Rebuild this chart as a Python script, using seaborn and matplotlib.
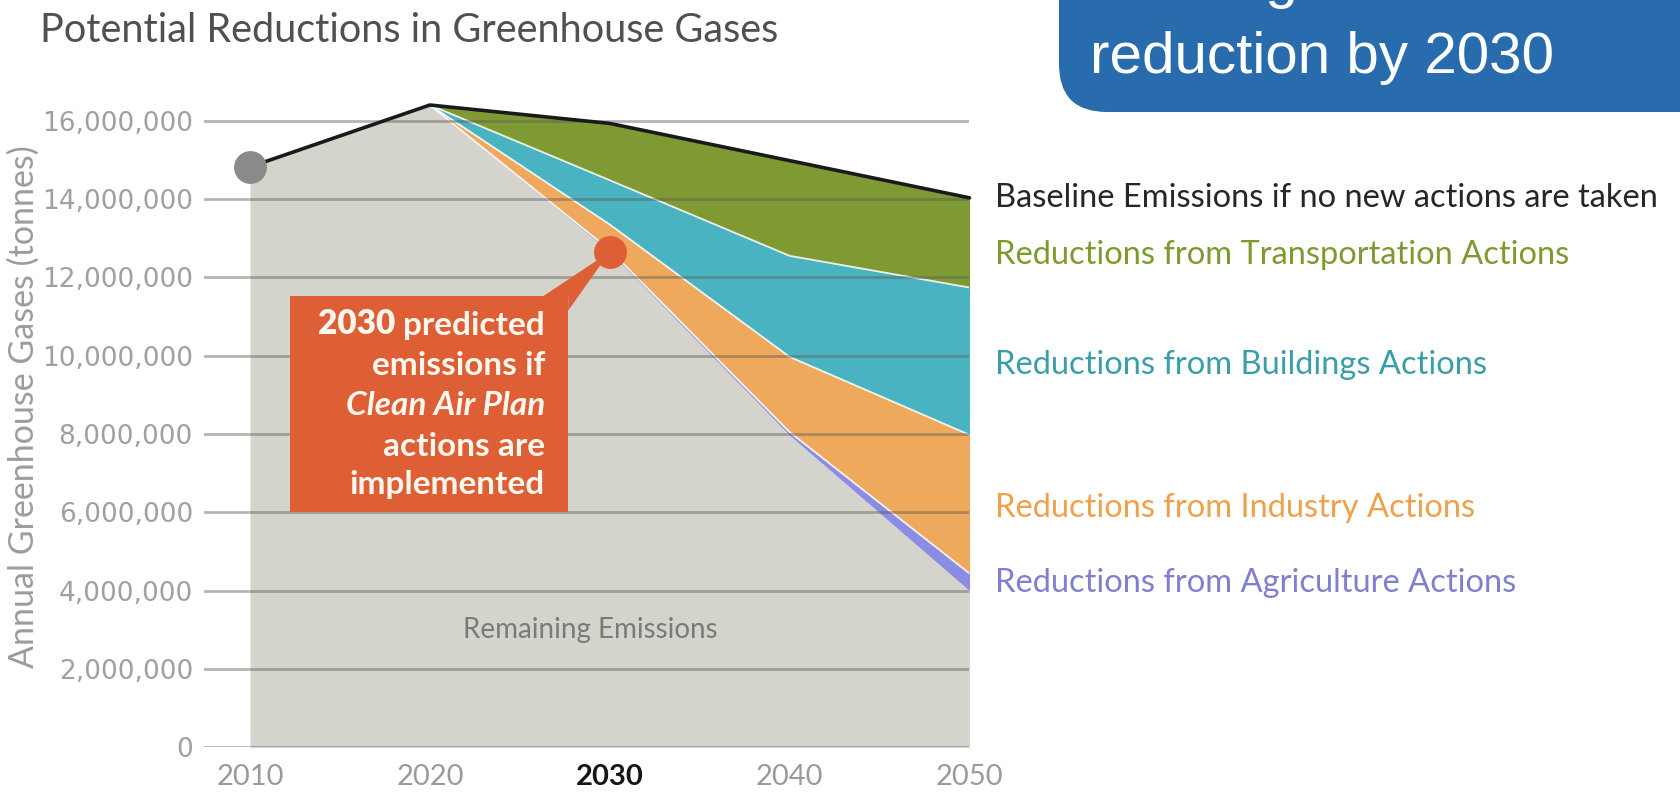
import numpy as np
import pandas as pd
import seaborn as sns
import matplotlib.pyplot as plt
from matplotlib.patches import FancyBboxPatch, Rectangle, Polygon
from matplotlib.transforms import IdentityTransform

# ---- data (tonnes of GHG per year) ----
years = [2010, 2020, 2030, 2040, 2050]
remaining = [14.82e6, 16.40e6, 12.65e6, 7.97e6, 4.00e6]
agriculture = [0.0, 0.0, 0.05e6, 0.08e6, 0.44e6]
industry = [0.0, 0.0, 0.65e6, 1.92e6, 3.54e6]
buildings = [0.0, 0.0, 1.13e6, 2.58e6, 3.76e6]
transportation = [0.0, 0.0, 1.45e6, 2.43e6, 2.29e6]

y_ticks = [0, 2e6, 4e6, 6e6, 8e6, 10e6, 12e6, 14e6, 16e6]
x_tick_labels = ["2010", "2020", "2030", "2040", "2050"]

series_names = ["Remaining Emissions", "Agriculture", "Industry", "Buildings", "Transportation"]
right_labels = [
    "Baseline Emissions if no new actions are taken",
    "Reductions from Transportation Actions",
    "Reductions from Buildings Actions",
    "Reductions from Industry Actions",
    "Reductions from Agriculture Actions",
]

# ---- styling ----
band_colors = ["#d5d4cc", "#8b8de3", "#eea95d", "#49b3c1", "#7f9a33"]
label_colors = ["#262626", "#7d9a2e", "#3a9ea8", "#efa04c", "#7e80cf"]
label_y = [None, 12.57e6, 9.75e6, 6.11e6, 4.20e6]   # vertical placement of right-hand labels
callout_color = "#de5f36"

df = pd.DataFrame({
    "year": years,
    "Remaining Emissions": remaining,
    "Agriculture": agriculture,
    "Industry": industry,
    "Buildings": buildings,
    "Transportation": transportation,
})
df["Baseline"] = df[series_names].sum(axis=1)

sns.set_theme(style="white")
plt.rcParams["font.family"] = ["Lato", "DejaVu Sans"]

W, H = 1681, 794
fig = plt.figure(figsize=(W / 100, H / 100), dpi=100)

# axes placed so the plot area spans the gridline extent
x0_px, x1_px = 204.0, 969.5
y0_px, ylim_top = 747.4, 16.8e6
px_per_year = (969.5 - 250.0) / 40.0
px_per_unit = 39.17 / 1e6
xlim_left = 2010 - (250.0 - x0_px) / px_per_year
top_px = y0_px - ylim_top * px_per_unit
ax = fig.add_axes([x0_px / W, (H - y0_px) / H, (x1_px - x0_px) / W, (y0_px - top_px) / H])
ax.set_xlim(xlim_left, 2050)
ax.set_ylim(0, ylim_top)

# stacked emission bands
stack = [df[n].values for n in series_names]
ax.stackplot(df["year"], *stack, colors=band_colors, linewidth=0, zorder=1)

# light separators between reduction bands
cum = np.cumsum(np.vstack(stack), axis=0)
mask = df["year"].values >= 2020
for i in range(1, 4):
    ax.plot(df["year"].values[mask], cum[i][mask], color="white", lw=1.3, alpha=0.85, zorder=2)

# gridlines drawn over the bands
for yt in y_ticks:
    ax.axhline(yt, color=(0.36, 0.36, 0.34), lw=2.0, alpha=0.45, zorder=3)

# baseline emissions line
sns.lineplot(data=df, x="year", y="Baseline", ax=ax, color="#1a1a1a", linewidth=2.6,
             zorder=6, clip_on=False)

# markers for 2010 start and 2030 prediction
sns.scatterplot(x=[years[0]], y=[remaining[0]], ax=ax, s=560, color="#8a8a8a",
                linewidth=0, zorder=7, clip_on=False)
sns.scatterplot(x=[years[2]], y=[remaining[2]], ax=ax, s=560, color=callout_color,
                linewidth=0, zorder=7, clip_on=False)

# callout box with pointer
box_left, box_right = 2012.22, 2027.69
box_bottom, box_top = 6.0e6, 11.52e6
ax.add_patch(Rectangle((box_left, box_bottom), box_right - box_left, box_top - box_bottom,
                       facecolor=callout_color, edgecolor="none", zorder=5))
ax.add_patch(Polygon([(2026.3, box_top), (box_right, box_top), (box_right, 11.15e6),
                      (years[2], remaining[2])], closed=True,
                     facecolor=callout_color, edgecolor="none", zorder=5))

tx = 2026.4
fs_call = 24
txt_col = "#fff8ef"
t_pred = ax.text(tx, 10.78e6, "predicted", ha="right", va="center", color=txt_col,
                 fontsize=fs_call, fontweight="bold", zorder=8)
ax.annotate("2030 ", xy=(0, 0), xycoords=t_pred, ha="right", va="bottom",
            color=txt_col, fontsize=fs_call, fontweight="heavy", zorder=8)
ax.text(tx, 9.74e6, "emissions if", ha="right", va="center", color=txt_col,
        fontsize=fs_call, fontweight="bold", zorder=8)
ax.text(tx, 8.72e6, "Clean Air Plan", ha="right", va="center", color=txt_col,
        fontsize=fs_call, fontweight="bold", fontstyle="italic", zorder=8)
ax.text(tx, 7.68e6, "actions are", ha="right", va="center", color=txt_col,
        fontsize=fs_call, fontweight="bold", zorder=8)
ax.text(tx, 6.70e6, "implemented", ha="right", va="center", color=txt_col,
        fontsize=fs_call, fontweight="bold", zorder=8)

# area label
ax.text(2028.94, 3.0e6, "Remaining Emissions", ha="center", va="center",
        color="#7a7a78", fontsize=20, zorder=8)

# right-hand series labels
base_end = df["Baseline"].iloc[-1]
for i, (lab, col) in enumerate(zip(right_labels, label_colors)):
    yy = base_end if label_y[i] is None else label_y[i]
    ax.annotate(lab, xy=(2050, yy), xytext=(18.5, 0), textcoords="offset points",
                ha="left", va="center", color=col, fontsize=23.5, annotation_clip=False)

# axes cosmetics
for s in ax.spines.values():
    s.set_visible(False)
ax.set_yticks(y_ticks)
ax.set_yticklabels([f"{int(v):,}" for v in y_ticks], fontsize=19,
                   family="DejaVu Sans", color="#a0a0a0")
ax.set_xticks(years)
ax.set_xticklabels(x_tick_labels, fontsize=21, color="#9a9a9a")
for lbl in ax.get_xticklabels():
    if lbl.get_text() == "2030":
        lbl.set_fontweight("bold")
        lbl.set_color("#151515")
ax.tick_params(axis="y", length=0, pad=8)
ax.tick_params(axis="x", length=0, pad=12)
ax.set_xlabel("")
ax.set_ylabel("")
ax.grid(False)

fig.text(24 / W, (H - 407) / H, "Annual Greenhouse Gases (tonnes)", rotation=90,
         ha="center", va="center", fontsize=24.5, color="#9c9c9c")
fig.text(40 / W, (H - 30) / H, "Potential Reductions in Greenhouse Gases",
         ha="left", va="center", fontsize=28.5, color="#505050")

# highlight banner in the top-right corner
banner = FancyBboxPatch((1059, H - 112), 900, 400,
                        boxstyle="round,pad=0,rounding_size=48",
                        transform=IdentityTransform(), facecolor="#296cad",
                        edgecolor="none", zorder=10)
fig.patches.append(banner)
fig.text(1090 / W, (H + 3) / H, "Meets goal of 50% emissions", ha="left", va="baseline",
         fontsize=42, color="white", family="Liberation Sans", zorder=11)
fig.text(1090 / W, (H - 73) / H, "reduction by 2030", ha="left", va="baseline",
         fontsize=42, color="white", family="Liberation Sans", zorder=11)

fig.savefig("out.png", dpi=100)
